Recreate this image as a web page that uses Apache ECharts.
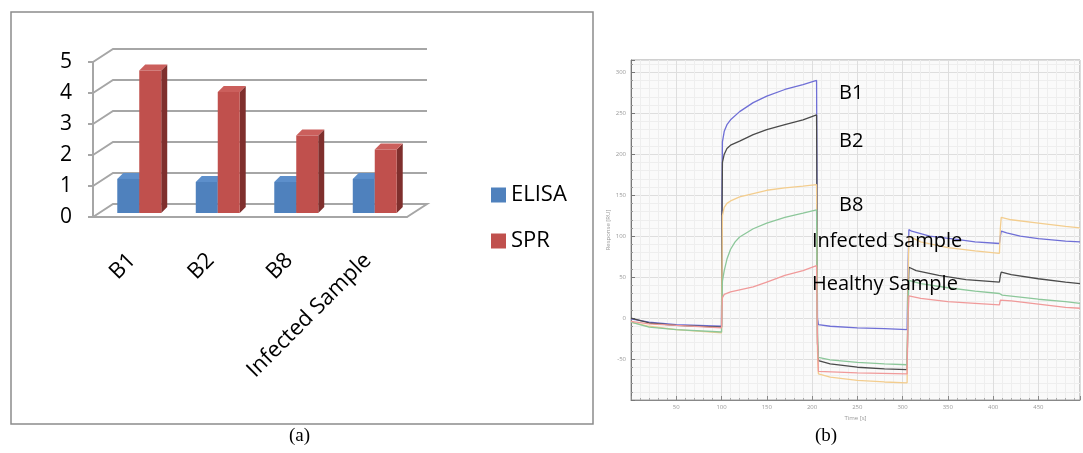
<!DOCTYPE html>
<html>
<head>
<meta charset="utf-8">
<script src="https://cdn.jsdelivr.net/npm/echarts@6/dist/echarts.min.js"></script>
<style>
html, body { margin: 0; padding: 0; background: #fff; }
#main { width: 1083px; height: 453px; }
</style>
</head>
<body>
<div id="main"></div>
<script>
// (a) ELISA vs SPR
var categories = ['B1', 'B2', 'B8', 'Infected Sample'];
var elisa = [1.1, 1.0, 1.0, 1.1];
var spr = [4.6, 3.9, 2.5, 2.05];
var barTicks = [0, 1, 2, 3, 4, 5];

// (b) sensorgram, [time s, response RU]
var curveB1 = [[0,-1],[20,-5],[50,-8],[100,-10],[100.5,150],[101,215],[103,228],[106,236],[110,242],[120,252],[135,263],[150,271],[170,279],[190,285],[205,290],[206,0],[207,-8],[220,-10],[250,-12],[280,-13],[305,-14],[306,60],[307,108],[310,106],[330,100],[360,96],[380,93],[407,91],[408,100],[409,106],[415,104],[430,100],[450,97],[480,94],[496,93]];
var curveB2 = [[0,0],[20,-6],[50,-9],[100,-11],[100.5,120],[101,190],[103,200],[106,207],[110,211],[120,216],[135,224],[150,230],[170,236],[190,242],[205,248],[206,-30],[207,-52],[220,-56],[250,-60],[280,-62],[305,-63],[306,20],[307,62],[315,58],[340,52],[370,47],[407,44],[408,52],[409,56],[420,53],[450,48],[480,44],[496,42]];
var curveB8 = [[0,-5],[20,-10],[50,-14],[100,-18],[100.5,60],[101,125],[103,135],[106,140],[110,143],[120,148],[135,152],[150,156],[170,159],[190,161],[205,163],[206,-40],[207,-68],[220,-72],[250,-76],[280,-78],[305,-79],[306,40],[307,100],[320,93],[350,86],[380,82],[407,79],[408,110],[409,123],[420,120],[450,116],[480,112],[496,110]];
var curveInfected = [[0,-5],[20,-11],[50,-14],[100,-17],[100.5,20],[101,45],[103,58],[106,72],[110,84],[115,93],[120,99],[135,109],[150,116],[170,123],[190,128],[205,132],[206,-20],[207,-48],[220,-51],[250,-54],[280,-56],[305,-57],[306,10],[307,46],[320,42],[350,37],[380,33],[407,30],[408,32],[410,28],[450,23],[480,20],[496,18]];
var curveHealthy = [[0,-4],[20,-7],[50,-9],[100,-12],[100.5,10],[101,25],[103,29],[110,32],[135,38],[150,44],[170,52],[190,58],[205,64],[206,-30],[207,-65],[250,-67],[305,-68],[306,0],[307,27],[320,24],[350,20],[380,18],[407,16],[408,22],[409,24],[420,21],[450,17],[480,13],[496,12]];

var DX = 20, DY = -13;   // depth of the 3d wall
var font = '"Open Sans", sans-serif';

var myChart = echarts.init(document.getElementById('main'));

function renderWall(params, api) {
    var cs = params.coordSys;
    var v = api.value(1);
    var y = api.coord([0, v])[1];
    var x0 = cs.x, x1 = cs.x + cs.width;
    var pts = [[x0, y], [x0 + DX, y + DY], [x1 + DX, y + DY]];
    if (v === 0) pts.push([x1, y]);
    return {
        type: 'polyline',
        shape: { points: pts },
        style: { stroke: '#a6a6a6', lineWidth: 2, fill: null }
    };
}

function makeBar(side, front, top, dark) {
    return function (params, api) {
        var i = api.value(0), v = api.value(1);
        var bw = api.size([1, 0])[0];
        var base = api.coord([i, 0]);
        var tp = api.coord([i, v]);
        var w = bw * 0.28;
        var l = base[0] + 7 - (side === 0 ? w : 0);
        var r = l + w;
        var yb = base[1] - 4, yt = tp[1] - 4;
        var d = 6, e = -6;
        return {
            type: 'group',
            children: [
                { type: 'polygon', shape: { points: [[r, yt], [r + d, yt + e], [r + d, yb + e], [r, yb]] },
                  style: { fill: dark } },
                { type: 'polygon', shape: { points: [[l, yt], [l + d, yt + e], [r + d, yt + e], [r, yt]] },
                  style: { fill: top } },
                { type: 'rect', shape: { x: l, y: yt, width: w, height: yb - yt },
                  style: { fill: front } }
            ]
        };
    };
}

var option = {
    animation: false,
    textStyle: { fontFamily: font },
    graphic: [
        { type: 'rect', shape: { x: 11, y: 12, width: 582, height: 412 },
          style: { fill: null, stroke: '#8c8c8c', lineWidth: 1.5 } },
        { type: 'text', left: 289, top: 427, style: { text: '(a)', font: '19px "Liberation Serif"', fill: '#000' } },
        { type: 'text', left: 815, top: 427, style: { text: '(b)', font: '19px "Liberation Serif"', fill: '#000' } },
        { type: 'text', left: 839, top: 83, z: 10, style: { text: 'B1', font: '20px "Open Sans"', fill: '#000' } },
        { type: 'text', left: 839, top: 131, z: 10, style: { text: 'B2', font: '20px "Open Sans"', fill: '#000' } },
        { type: 'text', left: 839, top: 195, z: 10, style: { text: 'B8', font: '20px "Open Sans"', fill: '#000' } },
        { type: 'text', left: 812, top: 231, z: 10, style: { text: 'Infected Sample', font: '20px "Open Sans"', fill: '#000' } },
        { type: 'text', left: 812, top: 274, z: 10, style: { text: 'Healthy Sample', font: '20px "Open Sans"', fill: '#000' } }
    ],
    legend: {
        orient: 'vertical',
        left: 486,
        top: 179,
        itemWidth: 15,
        itemHeight: 15,
        itemGap: 24,
        icon: 'rect',
        textStyle: { fontSize: 22, color: '#000', fontFamily: font },
        data: [
            { name: 'ELISA', itemStyle: { color: '#4f81bd' } },
            { name: 'SPR', itemStyle: { color: '#c0504d' } }
        ]
    },
    grid: [
        { left: 93, top: 62, width: 314, height: 155 },
        { left: 631, top: 60, right: 0, bottom: 53, show: true,
          backgroundColor: '#fafafa', borderColor: '#a0a0a0', borderWidth: 1 }
    ],
    xAxis: [
        {
            gridIndex: 0,
            type: 'category',
            data: categories,
            axisLine: { lineStyle: { color: '#a6a6a6', width: 2 } },
            axisTick: { length: 9, lineStyle: { color: '#a6a6a6', width: 2 } },
            axisLabel: { rotate: 45, margin: 40, fontSize: 22, color: '#000', fontFamily: font },
            splitLine: { show: false }
        },
        {
            gridIndex: 1,
            type: 'value',
            min: 0,
            max: 496,
            interval: 50,
            name: 'Time [s]',
            nameLocation: 'middle',
            nameGap: 12,
            nameTextStyle: { fontSize: 6, color: '#999' },
            axisLine: { onZero: false, lineStyle: { color: '#888' } },
            axisTick: { inside: true, length: 4, lineStyle: { color: '#888' } },
            minorTick: { show: true, splitNumber: 5, length: 2, lineStyle: { color: '#aaa' } },
            axisLabel: { fontSize: 6, color: '#999', margin: 4,
                formatter: function (v) { return (v % 50 === 0 && v > 0) ? v : ''; } },
            splitLine: { lineStyle: { color: '#dedede' } },
            minorSplitLine: { show: true, lineStyle: { color: '#eeeeee' } }
        }
    ],
    yAxis: [
        {
            gridIndex: 0,
            type: 'value',
            min: 0,
            max: 5,
            interval: 1,
            axisLine: { show: true, lineStyle: { color: '#a6a6a6', width: 2 } },
            axisTick: { show: true, length: 5, lineStyle: { color: '#a6a6a6', width: 2 } },
            axisLabel: { margin: 21, fontSize: 21, color: '#000', fontFamily: font },
            splitLine: { show: false }
        },
        {
            gridIndex: 1,
            type: 'value',
            min: -100,
            max: 315,
            interval: 50,
            name: 'Response [RU]',
            nameLocation: 'middle',
            nameGap: 20,
            nameTextStyle: { fontSize: 6, color: '#999' },
            axisLine: { show: true, lineStyle: { color: '#777' } },
            axisTick: { show: true, inside: true, length: 4, lineStyle: { color: '#777' } },
            minorTick: { show: true, splitNumber: 5, length: 2, lineStyle: { color: '#999' } },
            axisLabel: { fontSize: 6, color: '#999', margin: 5,
                formatter: function (v) { return (v % 50 === 0 && v > -100) ? v : ''; } },
            splitLine: { lineStyle: { color: '#dedede' } },
            minorSplitLine: { show: true, lineStyle: { color: '#eeeeee' } }
        }
    ],
    series: [
        {
            name: 'wall',
            type: 'custom',
            xAxisIndex: 0, yAxisIndex: 0,
            silent: true,
            clip: false,
            z: 1,
            renderItem: renderWall,
            data: barTicks.map(function (v) { return [0, v]; })
        },
        {
            name: 'ELISA',
            type: 'custom',
            xAxisIndex: 0, yAxisIndex: 0,
            clip: false,
            z: 3,
            itemStyle: { color: '#4f81bd' },
            renderItem: makeBar(0, '#4f81bd', '#5d8fcb', '#385d8a'),
            data: elisa.map(function (v, i) { return [i, v]; })
        },
        {
            name: 'SPR',
            type: 'custom',
            xAxisIndex: 0, yAxisIndex: 0,
            clip: false,
            z: 4,
            itemStyle: { color: '#c0504d' },
            renderItem: makeBar(1, '#c0504d', '#cb5f5c', '#7f2f2d'),
            data: spr.map(function (v, i) { return [i, v]; })
        },
        { name: 'B1', type: 'line', xAxisIndex: 1, yAxisIndex: 1, showSymbol: false,
          lineStyle: { color: '#6f6fd6', width: 1.3 }, data: curveB1 },
        { name: 'B2', type: 'line', xAxisIndex: 1, yAxisIndex: 1, showSymbol: false,
          lineStyle: { color: '#4a4a4a', width: 1.3 }, data: curveB2 },
        { name: 'B8', type: 'line', xAxisIndex: 1, yAxisIndex: 1, showSymbol: false,
          lineStyle: { color: '#f3cd8e', width: 1.3 }, data: curveB8 },
        { name: 'Infected', type: 'line', xAxisIndex: 1, yAxisIndex: 1, showSymbol: false,
          lineStyle: { color: '#8cc79a', width: 1.3 }, data: curveInfected },
        { name: 'Healthy', type: 'line', xAxisIndex: 1, yAxisIndex: 1, showSymbol: false,
          lineStyle: { color: '#f09a9a', width: 1.3 }, data: curveHealthy }
    ]
};

myChart.setOption(option);
</script>
</body>
</html>
